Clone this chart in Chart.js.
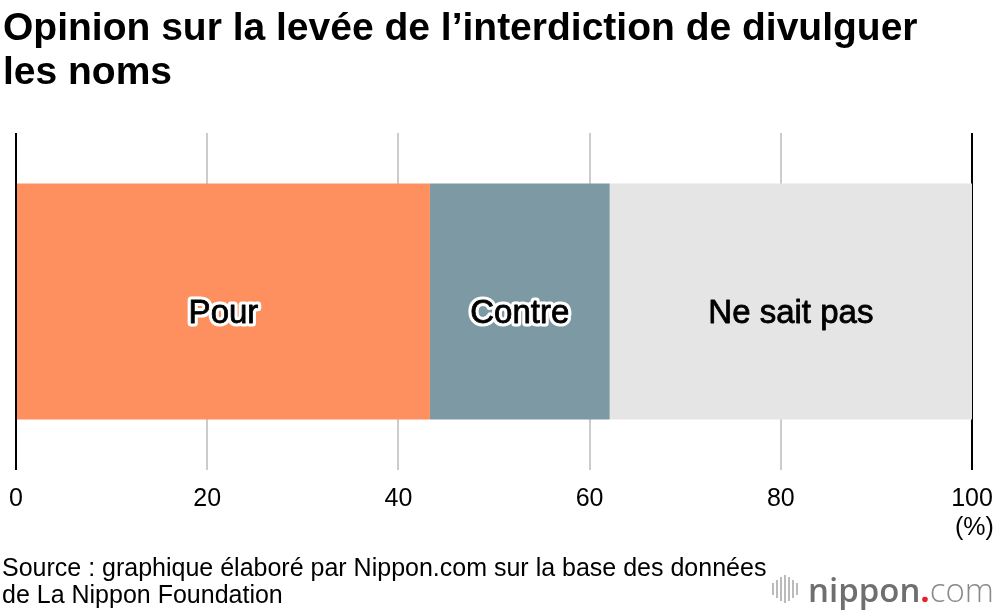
<!DOCTYPE html>
<html>
<head>
<meta charset="utf-8">
<script src="https://cdn.jsdelivr.net/npm/chart.js@4/dist/chart.umd.min.js"></script>
<style>
  html, body { margin: 0; padding: 0; background: #fff; }
  body { width: 1000px; height: 616px; position: relative; overflow: hidden; font-family: "Liberation Sans", Arial, sans-serif; color: #000; }
  #wrap { position: absolute; left: 0; top: 0; width: 1000px; height: 616px; }
  h1 { position: absolute; left: 3px; top: 5px; margin: 0; font-size: 39px; line-height: 44px; font-weight: bold; }
  .unit { position: absolute; left: 955px; top: 512px; font-size: 25px; }
  .source { position: absolute; left: 2px; top: 554px; font-size: 25px; line-height: 27px; }
  .logo { position: absolute; left: 772px; top: 569px; height: 40px; display: flex; align-items: center; }
  .bars { display: flex; align-items: center; gap: 2px; margin-right: 10px; }
  .bars span { display: block; width: 2px; background: #bbb; }
  .nip { font-family: "Open Sans", sans-serif; font-size: 33px; font-weight: 600; color: #6f6f6f; }
  .dot { color: #e8202a; font-family: "Open Sans", sans-serif; font-size: 33px; font-weight: bold; }
  .com { font-family: "Open Sans", sans-serif; font-size: 33px; font-weight: 300; color: #8a8a8a; }
</style>
</head>
<body>
<div id="wrap"><canvas id="chart" width="1000" height="616"></canvas></div>
<h1>Opinion sur la levée de l’interdiction de divulguer<br>les noms</h1>
<div class="unit">(%)</div>
<div class="source">Source : graphique élaboré par Nippon.com sur la base des données<br>de La Nippon Foundation</div>
<div class="logo">
  <div class="bars"><span style="height:12px"></span><span style="height:18px"></span><span style="height:24px"></span><span style="height:28px"></span><span style="height:24px"></span><span style="height:18px"></span><span style="height:12px"></span></div>
  <span class="nip">nippon</span><span class="dot">.</span><span class="com">com</span>
</div>
<script>
const categories = ['Opinion'];
const seriesNames = ['Pour', 'Contre', 'Ne sait pas'];
const pourValues = [43.3];
const contreValues = [18.8];
const nspValues = [37.9];
const colors = ['#fe8f5f', '#7c99a4', '#e5e5e5'];
const haloed = [true, true, false];

const labelPlugin = {
  id: 'segmentLabels',
  afterDatasetsDraw(chart) {
    const ctx = chart.ctx;
    ctx.save();
    ctx.font = '33px "Liberation Sans", Arial, sans-serif';
    ctx.textAlign = 'center';
    ctx.textBaseline = 'middle';
    chart.data.datasets.forEach((ds, i) => {
      const bar = chart.getDatasetMeta(i).data[0];
      const x = (bar.x + bar.base) / 2;
      const y = bar.y + 12;
      if (haloed[i]) {
        ctx.lineWidth = 7;
        ctx.lineJoin = 'round';
        ctx.strokeStyle = '#fff';
        ctx.strokeText(ds.label, x, y);
      }
      ctx.lineWidth = 0.8;
      ctx.strokeStyle = '#000';
      ctx.strokeText(ds.label, x, y);
      ctx.fillStyle = '#000';
      ctx.fillText(ds.label, x, y);
    });
    ctx.restore();
  }
};

const ctx = document.getElementById('chart').getContext('2d');
const chart = new Chart(ctx, {
  type: 'bar',
  data: {
    labels: categories,
    datasets: [
      { label: seriesNames[0], data: pourValues, backgroundColor: colors[0] },
      { label: seriesNames[1], data: contreValues, backgroundColor: colors[1] },
      { label: seriesNames[2], data: nspValues, backgroundColor: colors[2] }
    ]
  },
  options: {
    indexAxis: 'y',
    responsive: false,
    animation: false,
    devicePixelRatio: 1,
    layout: { padding: { left: 16, right: 28, top: 133, bottom: 0 } },
    datasets: { bar: { categoryPercentage: 0.7, barPercentage: 1 } },
    plugins: { legend: { display: false }, tooltip: { enabled: false } },
    scales: {
      x: {
        stacked: true,
        min: 0,
        max: 100,
        ticks: { stepSize: 20, color: '#000', padding: 14, font: { size: 25, family: '"Liberation Sans", Arial, sans-serif' } },
        grid: {
          drawTicks: false,
          lineWidth: 2,
          color: c => (c.tick && (c.tick.value === 0 || c.tick.value === 100)) ? '#000' : '#cccccc'
        },
        border: { display: false },
        afterFit(scale) {
          scale.height = 146;
          scale.paddingLeft = 0;
          scale.paddingRight = 0;
        }
      },
      y: {
        stacked: true,
        display: false
      }
    }
  },
  plugins: [labelPlugin]
});
</script>
</body>
</html>
